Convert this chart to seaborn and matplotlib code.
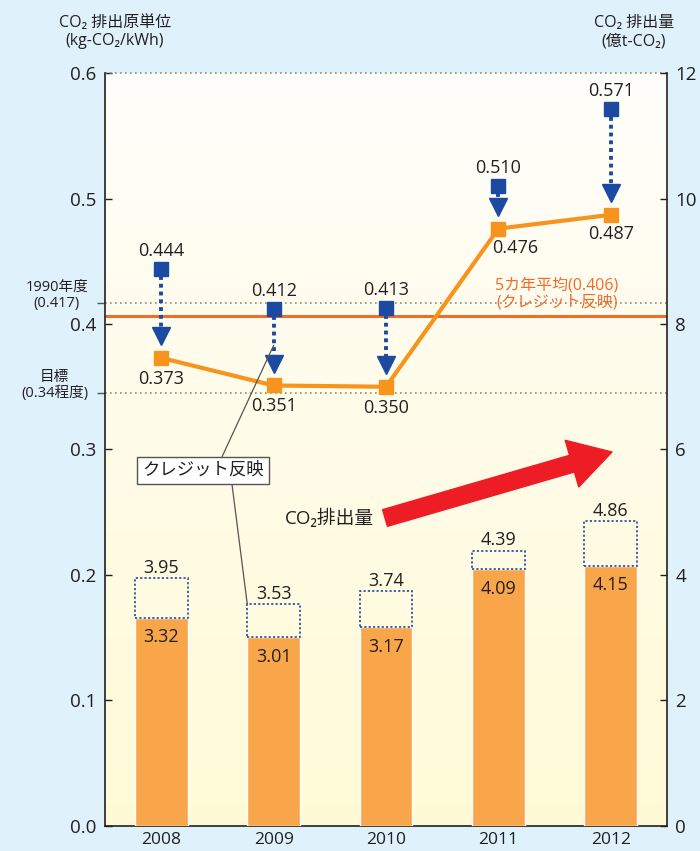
import numpy as np
import pandas as pd
import matplotlib
matplotlib.use("Agg")
import matplotlib.pyplot as plt
import matplotlib.transforms as mtransforms
from matplotlib.patches import FancyArrowPatch
from matplotlib.colors import LinearSegmentedColormap
import seaborn as sns

# ---------------- data ----------------
years = ["2008", "2009", "2010", "2011", "2012"]
intensity_raw = [0.444, 0.412, 0.413, 0.510, 0.571]      # kg-CO2/kWh before credits
intensity_credit = [0.373, 0.351, 0.350, 0.476, 0.487]   # after credits
emission_total = [3.95, 3.53, 3.74, 4.39, 4.86]          # 億t-CO2 before credits
emission_credit = [3.32, 3.01, 3.17, 4.09, 4.15]         # after credits
avg_5yr = 0.406
ref_1990 = 0.417
target_line = 0.345
left_ticks = [0.0, 0.1, 0.2, 0.3, 0.4, 0.5, 0.6]
right_ticks = [0, 2, 4, 6, 8, 10, 12]

sns.set_style("white")
FONT = ["Open Sans", "Noto Sans CJK JP", "DejaVu Sans"]
plt.rcParams["font.family"] = FONT

BLUE = "#1b4aa0"
ORANGE = "#f7941d"
BAR = "#f9a54a"
AVG = "#f26c28"
TXT = "#231f20"
GRID = "#8f8f73"

fig = plt.figure(figsize=(7, 8.51), dpi=100)
fig.patch.set_facecolor("#dff1fb")
ax = fig.add_axes([0.15, 0.0294, 0.803, 0.8848])
ax.set_facecolor("none")

# gradient background
grad = np.linspace(0, 1, 256).reshape(-1, 1)
cmap = LinearSegmentedColormap.from_list("bg", ["#fffad6", "#fffefa"])
ax.imshow(grad, extent=[0, 1, 0, 1], transform=ax.transAxes, cmap=cmap,
          aspect="auto", origin="lower", zorder=0)

ax2 = ax.twinx()
df = pd.DataFrame({"year": years, "credit": emission_credit, "total": emission_total})
sns.barplot(data=df, x="year", y="credit", ax=ax2, color=BAR, width=0.47,
            saturation=1, errorbar=None, zorder=2)
xs = np.arange(len(years))
ax2.bar(xs, np.array(emission_total) - np.array(emission_credit),
        bottom=emission_credit, width=0.47, fill=False, edgecolor=BLUE,
        linestyle=(0, (1.3, 1.3)), linewidth=1.2, zorder=3)

ax.set_xlim(-0.5, 4.5)
ax.set_ylim(0, 0.6)
ax2.set_ylim(0, 12)
ax2.set_xlabel("")
ax2.set_ylabel("")

# bar labels
for i in xs:
    ax2.annotate(f"{emission_credit[i]:.2f}", (i, emission_credit[i]),
                 xytext=(0, -14), textcoords="offset points", ha="center",
                 va="center", fontsize=13, color=TXT, zorder=5)
    ax2.annotate(f"{emission_total[i]:.2f}", (i, emission_total[i]),
                 xytext=(0, 1), textcoords="offset points", ha="center",
                 va="bottom", fontsize=13, color=TXT, zorder=5)

# reference lines
ax.axhline(0.6, color=GRID, ls=(0, (1, 2)), lw=1.2, zorder=1, clip_on=False)
ax.axhline(ref_1990, color=GRID, ls=(0, (1, 2)), lw=1.2, zorder=1)
ax.axhline(target_line, color=GRID, ls=(0, (1, 2)), lw=1.2, zorder=1)
ax.axhline(avg_5yr, color=AVG, lw=2.2, zorder=2)
ax.text(3.52, 0.411, "5カ年平均(0.406)\n(クレジット反映)", color=AVG, fontsize=11.5,
        ha="center", va="bottom", linespacing=1.05, zorder=4)

# credit line
sns.lineplot(x=xs, y=intensity_credit, ax=ax, color=ORANGE, lw=3, zorder=4)
ax.plot(xs, intensity_credit, ls="none", marker="s", ms=9.5, color=ORANGE, zorder=6)
ax.plot(xs, intensity_raw, ls="none", marker="s", ms=10, color=BLUE, zorder=6)

# dotted arrows
for i in xs:
    head = intensity_credit[i] + 0.0175
    ax.plot([i, i], [intensity_raw[i] - 0.006, head + 0.005], color=BLUE,
            ls=(0, (1, 1)), lw=2.8, zorder=5, solid_capstyle="butt")
    ax.plot([i], [head], marker="v", ms=13, color=BLUE, ls="none", zorder=5)

# value labels
for i in xs:
    ax.annotate(f"{intensity_raw[i]:.3f}", (i, intensity_raw[i]), xytext=(0, 13),
                textcoords="offset points", ha="center", va="center",
                fontsize=13, color=TXT, zorder=7)
    dx = 12 if i == 3 else 0
    dy = -14 if i >= 3 else -15
    ax.annotate(f"{intensity_credit[i]:.3f}", (i, intensity_credit[i]),
                xytext=(dx, dy), textcoords="offset points", ha="center",
                va="center", fontsize=13, color=TXT, zorder=7)

# axes styling
for s in ["top", "right"]:
    ax.spines[s].set_visible(False)
for s in ["top", "left", "bottom"]:
    ax2.spines[s].set_visible(False)
for sp in [ax.spines["left"], ax.spines["bottom"], ax2.spines["right"]]:
    sp.set_color(TXT)
    sp.set_linewidth(1.2)

ax.set_yticks(left_ticks, [f"{v:.1f}" for v in left_ticks])
ax.tick_params(axis="y", direction="in", length=5, width=1, color=TXT,
               labelsize=13.5, labelcolor=TXT, pad=6)
ax.set_yticks([ref_1990, target_line], minor=True)
ax.tick_params(axis="y", which="minor", direction="out", length=6, width=1,
               color="#555555")
ax.set_xticks(xs, years)
ax.tick_params(axis="x", length=0, labelsize=12.5, labelcolor=TXT, pad=4)
ax2.set_yticks(right_ticks, [str(v) for v in right_ticks])
ax2.tick_params(axis="y", direction="in", length=5, width=1, color=TXT,
                labelsize=13.5, labelcolor=TXT, pad=6)

blend = mtransforms.blended_transform_factory(ax.transAxes, ax.transData)
ax.annotate("1990年度\n(0.417)", (0, ref_1990), xycoords=blend, xytext=(-12, -6),
            textcoords="offset points", ha="right", va="bottom",
            multialignment="center", fontsize=10.5, color=TXT, linespacing=1.1,
            annotation_clip=False)
ax.annotate("目標\n(0.34程度)", (0, target_line), xycoords=blend, xytext=(-12, -6),
            textcoords="offset points", ha="right", va="bottom",
            multialignment="center", fontsize=10.5, color=TXT, linespacing=1.1,
            annotation_clip=False)

# axis titles
fig.text(115 / 700, 1 - 32 / 851, "CO₂ 排出原単位\n(kg-CO₂/kWh)", ha="center",
         va="center", fontsize=11.5, color=TXT, linespacing=1.2)
fig.text(634 / 700, 1 - 32 / 851, "CO₂ 排出量\n(億t-CO₂)", ha="center",
         va="center", fontsize=11.5, color=TXT, linespacing=1.2)

# credit callout
ax.plot([0.54, 1.0], [0.294, 0.383], color="#555555", lw=0.9, zorder=5)
ax.plot([0.63, 0.765], [0.272, 0.177], color="#555555", lw=0.9, zorder=5)
ax.text(0.372, 0.283, "クレジット反映", ha="center", va="center", fontsize=12.5,
        color=TXT, zorder=8,
        bbox=dict(boxstyle="square,pad=0.3", fc="white", ec="#555555", lw=1))

# big red arrow
arrow = FancyArrowPatch((385 / 700, 1 - 518 / 851), (612 / 700, 1 - 452 / 851),
                        transform=fig.transFigure,
                        arrowstyle="simple,tail_width=1.25,head_width=3.5,head_length=3.0",
                        mutation_scale=10, color="#ee1c25", shrinkA=0, shrinkB=0,
                        zorder=10)
fig.patches.append(arrow)
fig.text(329 / 700, 1 - 518 / 851, "CO₂排出量", ha="center", va="center",
         fontsize=13.5, color=TXT)

fig.savefig("out.png", dpi=100, facecolor=fig.get_facecolor())
